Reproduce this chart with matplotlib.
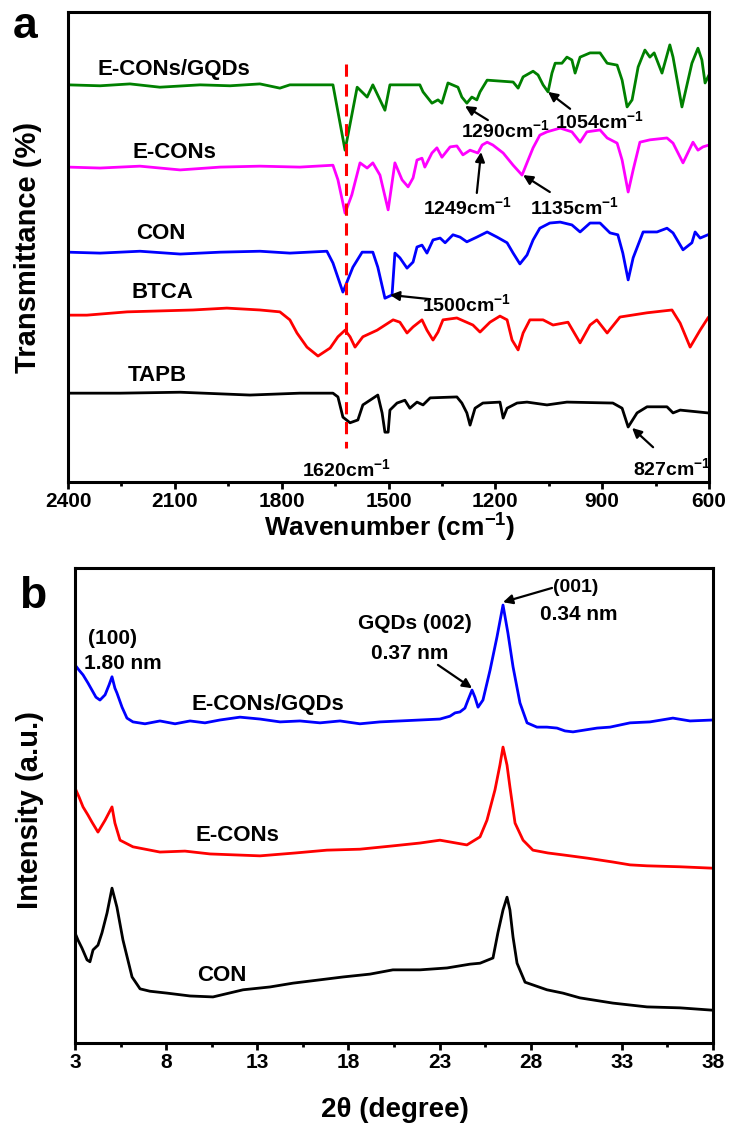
import numpy as np
import matplotlib
matplotlib.use("Agg")
import matplotlib.pyplot as plt
from matplotlib.ticker import MultipleLocator

plt.rcParams['font.family'] = ['Liberation Sans', 'DejaVu Sans']
plt.rcParams['font.weight'] = 'bold'
plt.rcParams['mathtext.fontset'] = 'custom'
plt.rcParams['mathtext.rm'] = 'Liberation Sans:bold'
plt.rcParams['mathtext.it'] = 'Liberation Sans:bold'
plt.rcParams['mathtext.bf'] = 'Liberation Sans:bold'

# ---------------- FTIR data (panel a), wavenumber in cm-1, transmittance offset (a.u.)
gqd_wn = [2400, 2310, 2226, 2142, 2029, 1945, 1861, 1805, 1777, 1656, 1622, 1588, 1560, 1544,
          1510, 1496, 1412, 1403, 1378, 1361, 1350, 1333, 1305, 1294, 1280, 1266, 1252, 1243,
          1223, 1150, 1136, 1122, 1094, 1080, 1066, 1052, 1041, 1032, 1013, 999, 985, 976,
          962, 934, 906, 886, 858, 844, 830, 816, 799, 780, 766, 754, 732, 710, 701, 676,
          648, 631, 620, 611, 600]
gqd_t = [84.5, 84.3, 84.7, 84.0, 84.5, 84.3, 84.7, 83.8, 84.5, 84.5, 70.6, 84.0, 81.9, 84.5,
         79.1, 84.5, 84.5, 83.0, 80.6, 81.3, 80.6, 84.9, 84.0, 81.9, 80.6, 81.9, 81.3, 83.0,
         85.5, 85.1, 83.8, 86.2, 87.4, 86.6, 84.5, 83.0, 87.0, 89.1, 89.1, 90.4, 89.8, 87.0,
         90.4, 91.3, 91.3, 89.1, 88.7, 85.5, 79.8, 81.3, 88.3, 91.9, 90.4, 91.3, 87.0, 93.0,
         90.4, 79.8, 89.1, 92.3, 89.8, 84.9, 86.6]

econ_wn = [2400, 2310, 2198, 2085, 1973, 1861, 1749, 1656, 1642, 1622, 1603, 1580, 1560, 1544,
           1524, 1501, 1482, 1462, 1445, 1431, 1420, 1406, 1398, 1378, 1364, 1350, 1327, 1308,
           1291, 1271, 1249, 1237, 1223, 1207, 1178, 1150, 1125, 1108, 1094, 1075, 1055, 1018,
           985, 962, 943, 906, 886, 858, 844, 827, 813, 794, 766, 718, 701, 673, 645, 631,
           617, 600]
econ_t = [67.0, 66.8, 67.2, 66.4, 67.0, 67.2, 67.0, 67.4, 64.3, 57.2, 61.1, 67.9, 66.8, 67.9,
          65.3, 57.9, 67.9, 64.3, 62.8, 64.7, 68.5, 68.9, 67.0, 70.0, 71.1, 69.1, 71.3, 71.5,
          69.6, 70.6, 70.0, 71.7, 72.3, 71.7, 70.0, 67.4, 65.3, 68.5, 71.1, 73.8, 74.5, 75.3,
          74.5, 72.3, 74.5, 74.9, 73.2, 72.1, 68.5, 61.7, 66.4, 72.3, 72.8, 73.2, 72.1, 67.9,
          72.3, 70.6, 71.3, 71.7]

con_wn = [2400, 2310, 2198, 2085, 1973, 1861, 1777, 1673, 1656, 1628, 1600, 1574, 1544, 1530,
          1510, 1490, 1482, 1468, 1448, 1431, 1420, 1406, 1392, 1375, 1355, 1341, 1319, 1299,
          1280, 1252, 1223, 1195, 1167, 1150, 1131, 1111, 1094, 1075, 1047, 1018, 985, 962,
          934, 906, 878, 856, 842, 827, 813, 785, 746, 718, 701, 673, 648, 639, 625, 603]
con_t = [48.9, 48.7, 49.1, 48.5, 48.9, 49.1, 48.7, 49.1, 46.6, 40.4, 45.7, 48.9, 48.9, 45.7,
         39.1, 39.8, 48.7, 47.7, 45.5, 46.8, 50.0, 50.4, 48.7, 51.5, 51.9, 50.9, 52.6, 52.1,
         51.1, 52.1, 53.2, 52.1, 50.9, 48.7, 46.4, 48.3, 51.5, 54.0, 55.1, 55.3, 54.7, 53.2,
         55.1, 55.1, 53.0, 52.6, 48.7, 43.0, 47.7, 53.2, 53.2, 54.0, 53.0, 49.4, 50.9, 53.2,
         51.9, 52.6]

btca_wn = [2394, 2347, 2234, 2049, 1954, 1861, 1805, 1777, 1757, 1729, 1698, 1664, 1642, 1622,
           1608, 1594, 1572, 1532, 1487, 1468, 1448, 1431, 1406, 1392, 1375, 1361, 1347, 1308,
           1263, 1243, 1215, 1187, 1167, 1153, 1136, 1122, 1103, 1066, 1038, 996, 962, 934,
           915, 886, 850, 774, 704, 681, 653, 625, 603]
btca_t = [35.5, 35.5, 36.2, 36.6, 37.0, 36.6, 36.2, 34.5, 31.7, 28.7, 26.8, 28.5, 30.9, 32.3,
          30.9, 28.7, 30.9, 32.3, 34.5, 34.0, 31.7, 33.0, 34.5, 32.3, 30.2, 31.9, 34.5, 34.9,
          33.4, 31.9, 34.0, 35.3, 34.5, 30.2, 28.1, 31.7, 34.5, 34.5, 33.4, 34.0, 29.6, 33.4,
          34.5, 31.7, 35.1, 36.0, 36.6, 33.8, 28.7, 32.3, 34.9]

tapb_wn = [2400, 2254, 2085, 1889, 1749, 1656, 1642, 1628, 1608, 1586, 1572, 1552, 1530, 1518,
           1510, 1501, 1496, 1476, 1454, 1440, 1420, 1403, 1383, 1308, 1294, 1280, 1271, 1257,
           1235, 1187, 1178, 1167, 1139, 1111, 1055, 999, 870, 844, 827, 802, 774, 718, 701,
           681, 603]
tapb_t = [18.9, 18.9, 19.1, 18.5, 18.9, 18.9, 18.1, 13.8, 12.6, 13.2, 16.4, 17.4, 18.5, 14.7,
          10.6, 10.6, 15.3, 16.8, 17.4, 15.7, 17.0, 16.4, 17.9, 18.1, 16.8, 14.7, 12.1, 15.7,
          16.8, 17.0, 13.6, 15.7, 16.8, 17.0, 16.4, 17.0, 16.8, 15.7, 11.7, 14.7, 16.0, 16.0,
          14.7, 15.3, 14.7]

# ---------------- XRD data (panel b), 2theta in degree, intensity offset (a.u.)
gqdx_2t = [3.00, 3.22, 3.44, 3.71, 3.93, 4.15, 4.37, 4.65, 4.87, 5.03, 5.19, 5.30, 5.58, 5.85,
           6.18, 6.84, 7.66, 8.49, 9.31, 10.13, 10.95, 12.05, 13.15, 14.25, 15.34, 16.44,
           17.54, 18.63, 19.73, 20.83, 21.93, 23.02, 23.57, 23.85, 24.12, 24.39, 24.56, 24.78,
           24.94, 25.11, 25.38, 25.77, 26.15, 26.48, 26.75, 27.03, 27.41, 27.80, 28.34, 28.89,
           29.44, 29.88, 30.32, 30.98, 31.64, 32.35, 33.45, 34.54, 35.80, 36.74, 38.00]
gqdx_i = [79.6, 78.5, 77.5, 75.8, 74.3, 72.8, 72.2, 73.3, 75.4, 77.1, 74.7, 73.7, 70.7, 68.4,
          67.6, 67.2, 67.8, 67.2, 67.8, 67.4, 68.0, 68.6, 68.2, 67.6, 67.8, 67.4,
          67.8, 67.2, 67.6, 67.8, 68.0, 68.2, 68.8, 69.5, 69.7, 70.5, 72.2, 74.3,
          72.8, 70.7, 72.2, 78.5, 85.5, 92.2, 86.3, 79.2, 71.6, 67.4, 66.5, 66.5,
          66.3, 65.7, 65.5, 65.9, 66.3, 66.5, 67.4, 67.6, 68.4, 67.8, 68.0]

econx_2t = [3.00, 3.22, 3.44, 3.71, 3.93, 4.26, 4.65, 5.03, 5.19, 5.47, 6.18, 7.66, 9.03,
            10.41, 11.78, 13.15, 15.07, 16.82, 18.63, 20.44, 21.93, 23.02, 24.50, 25.22,
            25.60, 26.04, 26.31, 26.48, 26.70, 26.86, 27.14, 27.58, 28.12, 28.95, 29.77,
            31.14, 32.51, 33.45, 34.38, 36.19, 38.00]
econx_i = [53.7, 51.8, 49.7, 48.0, 46.5, 44.4, 46.9, 49.7, 46.3, 42.7, 41.3, 40.2, 40.4,
           39.8, 39.6, 39.4, 40.0, 40.6, 40.8, 41.5, 42.1, 42.7, 41.7, 43.4,
           46.9, 53.3, 58.5, 62.3, 58.5, 53.9, 46.3, 42.7, 40.6, 40.0, 39.6,
           38.9, 38.1, 37.5, 37.3, 37.1, 36.8]

conx_2t = [3.00, 3.16, 3.38, 3.66, 3.82, 3.99, 4.26, 4.48, 4.76, 5.03, 5.30, 5.63, 6.13, 6.57,
           7.11, 8.05, 9.31, 10.57, 12.22, 13.70, 14.96, 16.44, 17.70, 19.18, 20.44, 21.93,
           23.41, 24.67, 25.22, 25.93, 26.20, 26.48, 26.70, 26.86, 27.03, 27.25, 27.69,
           28.89, 29.77, 30.70, 32.51, 34.38, 36.19, 38.00]
conx_i = [23.2, 21.7, 20.0, 17.5, 17.1, 19.6, 20.6, 23.2, 27.4, 32.6, 28.6, 21.7, 13.9, 11.4,
          10.9, 10.5, 9.9, 9.7, 11.2, 11.8, 12.6, 13.3, 13.9, 14.5, 15.4, 15.4,
          15.8, 16.6, 16.8, 17.9, 23.2, 28.0, 30.7, 28.0, 22.3, 16.8, 12.8,
          11.2, 10.5, 9.5, 8.4, 7.6, 7.4, 6.9]

W, H = 732, 1126
fig = plt.figure(figsize=(W / 100, H / 100), dpi=100)


def frac(px, py):
    return px / W, 1 - py / H


def style_axes(ax):
    for s in ax.spines.values():
        s.set_linewidth(2.2)
    ax.tick_params(axis='x', which='major', direction='out', length=5, width=2,
                   labelsize=15, pad=2)
    ax.tick_params(axis='x', which='minor', direction='out', length=3, width=2)
    ax.set_yticks([])


lw = 2.0
arrow = dict(arrowstyle='-|>', color='black', lw=1.6, mutation_scale=14,
             shrinkA=0, shrinkB=0)

# ---------------- panel a
ax1 = fig.add_axes([68 / W, 1 - 482 / H, (709 - 68) / W, (482 - 12) / H])
ax1.plot(gqd_wn, gqd_t, color='#008000', lw=lw)
ax1.plot(econ_wn, econ_t, color='#ff00ff', lw=lw)
ax1.plot(con_wn, con_t, color='#0000ff', lw=lw)
ax1.plot(btca_wn, btca_t, color='#ff0000', lw=lw)
ax1.plot(tapb_wn, tapb_t, color='black', lw=lw)
ax1.plot([1620, 1620], [89.0, 7.2], color='#ff0000', lw=2.2, ls=(0, (4, 2.5)))
ax1.set_xlim(2400, 600)
ax1.set_ylim(0, 100)
ax1.xaxis.set_major_locator(MultipleLocator(300))
ax1.xaxis.set_minor_locator(MultipleLocator(150))
style_axes(ax1)

for txt, x, y in [('E-CONs/GQDs', 2102, 87.8), ('E-CONs', 2102, 70.2), ('CON', 2139, 52.8),
                  ('BTCA', 2136, 40.4), ('TAPB', 2150, 22.6)]:
    ax1.text(x, y, txt, fontsize=16, ha='center', va='center')

peak_lbl = [('1290', 1172, 74.8), ('1054', 908, 76.7), ('1249', 1277, 58.4),
            ('1135', 979, 58.4), ('1500', 1282, 37.8), ('1620', 1617, 2.8), ('827', 704, 3.0)]
for num, x, y in peak_lbl:
    ax1.text(x, y, num + r'cm$^{-1}$', fontsize=14, ha='center', va='center')

peak_arr = [((1285, 80.0), (1221, 77.0)), ((1052, 83.0), (990, 79.4)),
            ((1240, 70.2), (1252, 61.5)), ((1122, 65.3), (1047, 61.7)),
            ((1496, 39.8), (1383, 38.9)), ((816, 11.5), (757, 7.4))]
for tip, tail in peak_arr:
    ax1.annotate('', xy=tip, xytext=tail, arrowprops=arrow)

# ---------------- panel b
ax2 = fig.add_axes([75 / W, 1 - 1043 / H, (713 - 75) / W, (1043 - 568) / H])
ax2.plot(gqdx_2t, gqdx_i, color='#0000ff', lw=lw)
ax2.plot(econx_2t, econx_i, color='#ff0000', lw=lw)
ax2.plot(conx_2t, conx_i, color='black', lw=lw)
ax2.set_xlim(3, 38)
ax2.set_ylim(0, 100)
ax2.set_xticks(np.arange(3, 39, 5))
ax2.set_xticks(np.arange(5.5, 38, 5), minor=True)
style_axes(ax2)

for txt, x, y, fs in [('(100)', 5.08, 85.1, 15), ('1.80 nm', 5.63, 79.8, 15),
                      ('E-CONs/GQDs', 13.59, 71.2, 16), ('GQDs (002)', 21.65, 88.4, 15),
                      ('0.37 nm', 21.38, 82.1, 15), ('(001)', 30.48, 95.8, 14),
                      ('0.34 nm', 30.65, 90.3, 15), ('E-CONs', 11.89, 43.6, 16),
                      ('CON', 11.06, 14.3, 16)]:
    ax2.text(x, y, txt, fontsize=fs, ha='center', va='center')

ax2.annotate('', xy=(24.78, 74.7), xytext=(22.91, 79.6), arrowprops=arrow)
ax2.annotate('', xy=(26.48, 92.8), xytext=(29.17, 95.8), arrowprops=arrow)

# ---------------- figure-level labels
fig.text(*frac(28, 247), 'Transmittance (%)', rotation=90, fontsize=21, ha='center', va='center')
fig.text(*frac(390, 512), r'Wavenumber (cm$^{-1}$)', fontsize=19, ha='center', va='top')
fig.text(*frac(30, 810), 'Intensity (a.u.)', rotation=90, fontsize=21, ha='center', va='center')
fig.text(*frac(395, 1110), '2θ (degree)', fontsize=20, ha='center', va='center')
fig.text(*frac(25, 27), 'a', fontsize=32, ha='center', va='center')
fig.text(*frac(33, 596), 'b', fontsize=32, ha='center', va='center')

fig.savefig('out.png', dpi=100)
